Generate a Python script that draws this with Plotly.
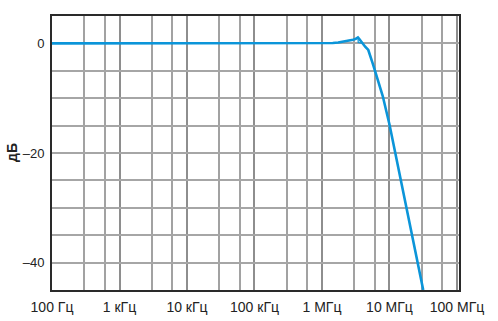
import plotly.graph_objects as go

# Frequency response data (frequency in Hz as log10 exponent, gain in dB)
log_freq = [2.0, 5.0, 6.0, 6.08, 6.16, 6.24, 6.32, 6.40, 6.46, 6.50, 6.533, 6.55,
            6.57, 6.60, 6.64, 6.686, 6.72, 6.75, 6.78, 6.81, 6.9, 7.0, 7.17, 7.5]
gain_db = [0.0, 0.0, 0.0, 0.03, 0.08, 0.17, 0.3, 0.48, 0.65, 0.82, 1.1, 0.85,
           0.5, 0.0, -0.6, -1.2, -2.3, -3.6, -4.8, -6.1, -9.6, -14.8, -25.1, -45.0]

# second (overlapping) trace near the peak
log_freq2 = [6.50, 6.533, 6.537, 6.555, 6.60]
gain_db2 = [0.82, 1.1, 0.15, 0.08, 0.0]

freq = [10 ** v for v in log_freq]
freq2 = [10 ** v for v in log_freq2]

x_major = [1e2, 1e3, 1e4, 1e5, 1e6, 1e7, 1e8]
x_labels = ["100 Гц", "1 кГц", "10 кГц", "100 кГц", "1 МГц", "10 МГц", "100 МГц"]
x_minor = [m * d for d in [1e2, 1e3, 1e4, 1e5, 1e6, 1e7] for m in (3, 6)]

y_grid = [-40, -35, -30, -25, -20, -15, -10, -5, 0]
y_labels = {0: "0", -20: "–20", -40: "–40"}
y_title = "дБ"

line_color = "#0b95d9"

fig = go.Figure()
fig.add_trace(go.Scatter(x=freq, y=gain_db, mode="lines",
                         line=dict(color=line_color, width=2.6),
                         hoverinfo="skip", showlegend=False))
fig.add_trace(go.Scatter(x=freq2, y=gain_db2, mode="lines",
                         line=dict(color=line_color, width=1.2),
                         hoverinfo="skip", showlegend=False))

font_family = "Liberation Sans, Arial, sans-serif"

fig.update_layout(
    width=498, height=321,
    margin=dict(l=52, r=39, t=16, b=31),
    paper_bgcolor="white", plot_bgcolor="white",
    font=dict(family=font_family, size=14, color="#222"),
    xaxis=dict(
        type="log", range=[2, 8.03], automargin=False,
        tickmode="array", tickvals=x_major, ticktext=x_labels,
        showgrid=True, gridcolor="#8e8e8e", gridwidth=2,
        minor=dict(tickmode="array", tickvals=x_minor, showgrid=True,
                   gridcolor="#a2a2a2", gridwidth=1.8, ticks=""),
        showline=True, mirror=True, linecolor="#2a2a2a", linewidth=2,
        ticks="outside", ticklen=3, tickcolor="rgba(0,0,0,0)",
        zeroline=False,
        tickfont=dict(size=14, family=font_family),
    ),
    yaxis=dict(
        range=[-45, 5], automargin=False,
        tickmode="array", tickvals=y_grid,
        ticktext=[y_labels.get(v, "") for v in y_grid],
        showgrid=True, gridcolor="#a6a6a6", gridwidth=1.8,
        showline=True, mirror=True, linecolor="#2a2a2a", linewidth=2,
        ticks="outside", ticklen=3, tickcolor="rgba(0,0,0,0)",
        zeroline=False,
        tickfont=dict(size=13, family=font_family),
    ),
    annotations=[dict(
        text="<b>" + y_title + "</b>", textangle=-90,
        xref="paper", x=0, xanchor="center", xshift=-40,
        yref="y", y=-20, yanchor="middle",
        showarrow=False, font=dict(size=14, family=font_family, color="#222"),
    )],
)

fig.write_html("out.html")
